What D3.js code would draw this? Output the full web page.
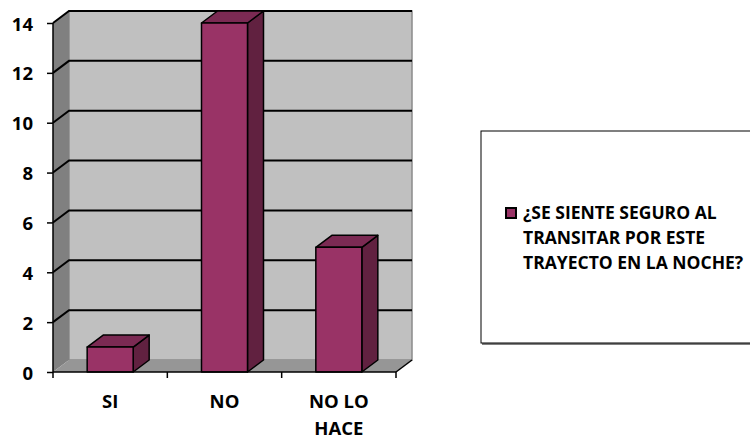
<!DOCTYPE html>
<html>
<head>
<meta charset="utf-8">
<script src="https://cdn.jsdelivr.net/npm/d3@7"></script>
<style>
  body { margin: 0; background: #fff; }
  svg { display: block; }
  svg text { font-family: "Open Sans", sans-serif; font-weight: 700; }
</style>
</head>
<body>
<svg id="chart" width="750" height="442"></svg>
<script>
// Survey answers
const categories = ["SI", "NO", "NO LO HACE"];
const values = [1, 14, 5];
const yTicks = [0, 2, 4, 6, 8, 10, 12, 14];
const seriesName = "¿SE SIENTE SEGURO AL TRANSITAR POR ESTE TRAYECTO EN LA NOCHE?";

const svg = d3.select("#chart");

// 3D depth offset of the plot box
const dx = 16, dy = 12;
const plotLeft = 53, plotRight = 396, plotTop = 23, plotBottom = 372;

const x = d3.scaleBand().domain(categories).range([plotLeft, plotRight]).paddingInner(0).paddingOuter(0);
const y = d3.scaleLinear().domain([0, 14]).range([plotBottom, plotTop]);

const poly = pts => pts.map(p => p.join(",")).join(" ");

// Back wall
svg.append("polygon")
  .attr("points", poly([[plotLeft + dx, y(14) - dy], [plotRight + dx, y(14) - dy], [plotRight + dx, y(0) - dy], [plotLeft + dx, y(0) - dy]]))
  .attr("fill", "#c0c0c0").attr("stroke", "#8a8a8a").attr("stroke-width", 1.5);

// Left side wall
svg.append("polygon")
  .attr("points", poly([[plotLeft, y(0)], [plotLeft, y(14)], [plotLeft + dx, y(14) - dy], [plotLeft + dx, y(0) - dy]]))
  .attr("fill", "#808080");

// Floor
svg.append("polygon")
  .attr("points", poly([[plotLeft, y(0)], [plotLeft + dx, y(0) - dy], [plotRight + dx, y(0) - dy], [plotRight, y(0)]]))
  .attr("fill", "#969696");

// Gridlines on side wall and back wall
const grid = svg.append("g").attr("stroke", "#000").attr("stroke-width", 2).attr("fill", "none");
yTicks.filter(v => v > 0).forEach(v => {
  grid.append("polyline")
    .attr("points", poly([[plotLeft, y(v)], [plotLeft + dx, y(v) - dy], [plotRight + dx, y(v) - dy]]));
});
// Floor right edge
svg.append("line")
  .attr("x1", plotRight).attr("y1", y(0)).attr("x2", plotRight + dx).attr("y2", y(0) - dy)
  .attr("stroke", "#000").attr("stroke-width", 1.5);

// Bars
const barW = 46;
const bars = svg.append("g").attr("stroke", "#000").attr("stroke-width", 1.5).attr("stroke-linejoin", "round");
categories.forEach((c, i) => {
  const x0 = x(c) + (x.bandwidth() - barW) / 2;
  const x1 = x0 + barW;
  const yt = y(values[i]);
  const yb = y(0);
  // side face
  bars.append("polygon")
    .attr("points", poly([[x1, yb], [x1, yt], [x1 + dx, yt - dy], [x1 + dx, yb - dy]]))
    .attr("fill", "#612140");
  // top face
  bars.append("polygon")
    .attr("points", poly([[x0, yt], [x0 + dx, yt - dy], [x1 + dx, yt - dy], [x1, yt]]))
    .attr("fill", "#7b2a53");
  // front face
  bars.append("rect")
    .attr("x", x0).attr("y", yt).attr("width", barW).attr("height", yb - yt)
    .attr("fill", "#993366");
});

// Y axis
const yAxis = svg.append("g").attr("transform", `translate(${plotLeft},0)`)
  .call(d3.axisLeft(y).tickValues(yTicks).tickSize(6).tickPadding(14).tickFormat(d3.format("d")));
yAxis.select(".domain").attr("stroke", "#000").attr("stroke-width", 1.5).attr("d", `M0,${y(14)}V${y(0)}`);
yAxis.selectAll(".tick line").attr("stroke", "#000").attr("stroke-width", 1.5);
yAxis.selectAll(".tick text").attr("font-size", 18.5).attr("fill", "#000").attr("dy", "0.38em");

// X axis baseline with category boundary ticks
const xAxis = svg.append("g").attr("stroke", "#000").attr("stroke-width", 1.5);
xAxis.append("line").attr("x1", plotLeft).attr("x2", plotRight).attr("y1", y(0)).attr("y2", y(0));
const bounds = categories.map(c => x(c)).concat([plotRight]);
bounds.forEach(b => {
  xAxis.append("line").attr("x1", b).attr("x2", b).attr("y1", y(0)).attr("y2", y(0) + 6);
});

// Category labels (wrapped)
const labelLines = { "SI": ["SI"], "NO": ["NO"], "NO LO HACE": ["NO LO", "HACE"] };
categories.forEach(c => {
  const t = svg.append("text")
    .attr("x", x(c) + x.bandwidth() / 2).attr("y", 408)
    .attr("text-anchor", "middle").attr("font-size", 18.5).attr("fill", "#000");
  labelLines[c].forEach((ln, k) => {
    t.append("tspan").attr("x", x(c) + x.bandwidth() / 2).attr("dy", k === 0 ? 0 : 27).text(ln);
  });
});

// Legend
const lg = svg.append("g");
lg.append("rect").attr("x", 482).attr("y", 134).attr("width", 280).attr("height", 211)
  .attr("fill", "#7f7f7f");
lg.append("rect").attr("x", 481).attr("y", 131).attr("width", 280).attr("height", 212)
  .attr("fill", "#fff").attr("stroke", "#000").attr("stroke-width", 1);
lg.append("rect").attr("x", 506).attr("y", 208).attr("width", 10).attr("height", 10)
  .attr("fill", "#993366").attr("stroke", "#000").attr("stroke-width", 2);
const legendLines = ["¿SE SIENTE SEGURO AL", "TRANSITAR POR ESTE", "TRAYECTO EN LA NOCHE?"];
const lt = lg.append("text").attr("x", 523).attr("y", 219).attr("font-size", 17.5).attr("fill", "#000");
legendLines.forEach((ln, k) => {
  lt.append("tspan").attr("x", 523).attr("dy", k === 0 ? 0 : 25).text(ln);
});
</script>
</body>
</html>
